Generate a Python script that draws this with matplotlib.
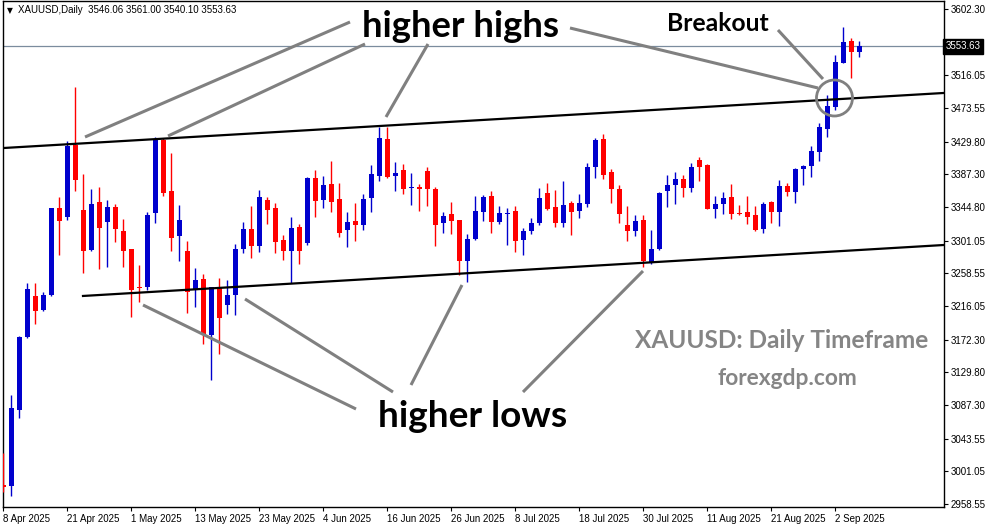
import matplotlib
matplotlib.use("Agg")
import matplotlib.pyplot as plt
from matplotlib.patches import Ellipse
import numpy as np

# ---------------------------------------------------------------------------
# data: XAUUSD daily candles, 8 Apr 2025 .. 5 Sep 2025
# ---------------------------------------------------------------------------
opens = [2983, 2982, 3081, 3176, 3229, 3211, 3230, 3343.5, 3332, 3425.4,
         3341, 3289, 3351, 3325.7, 3344.8, 3313.6, 3290, 3241, 3241, 3336.6,
         3432, 3365.6, 3307.5, 3287.6, 3238, 3251, 3178.3, 3239, 3217.4, 3230.4,
         3290.2, 3316.2, 3294.5, 3353.9, 3343.5, 3301.9, 3288, 3318.8, 3298.4, 3382.5,
         3354.3, 3374.7, 3355.2, 3315.3, 3326.6, 3321.4, 3356.5, 3385.1, 3433.2, 3385.6,
         3392.9, 3369.5, 3370.8, 3391.6, 3368.2, 3324, 3335.7, 3327.9, 3274.6, 3303.2,
         3338.7, 3359.1, 3325.7, 3335.7, 3339.6, 3302.3, 3314, 3324, 3363, 3344.8,
         3324, 3350, 3339.6, 3348.7, 3396.8, 3433.2, 3390.3, 3368.2, 3321.4, 3313.6,
         3327.9, 3273.7, 3290.2, 3365.6, 3373.4, 3381.2, 3369.9, 3405.9, 3399.4, 3342.2,
         3349.1, 3357.8, 3337, 3338.3, 3334.4, 3316.2, 3350.9, 3338.7, 3372.1, 3364.7,
         3393.8, 3398.6, 3416.8, 3445.8, 3475.3, 3532.5, 3560.7, 3546.06]
highs = [3024.4, 3100.3, 3177, 3246.4, 3246, 3234, 3343.5, 3357.8, 3430.6, 3501.3,
         3387.7, 3368, 3370.8, 3354, 3348.7, 3329, 3290, 3269.4, 3338, 3435.8,
         3435, 3414.6, 3347.4, 3300.6, 3265.5, 3257.7, 3241.2, 3252.5, 3249.9, 3296.7,
         3325.3, 3346.1, 3367, 3357.4, 3349.6, 3308.4, 3331.8, 3322.7, 3383.8, 3392.9,
         3385.1, 3404.6, 3376, 3338.3, 3350, 3361.7, 3399.4, 3449.3, 3449.3, 3403.3,
         3400.7, 3389, 3374.7, 3396.8, 3370.8, 3338.3, 3351.3, 3327.9, 3309.7, 3359.1,
         3360.4, 3365.6, 3346.1, 3343.5, 3346.1, 3317.5, 3330.5, 3369.5, 3376, 3366.9,
         3378.6, 3352.6, 3361.7, 3402, 3434.5, 3439.7, 3394.2, 3373.4, 3346.1, 3334.4,
         3334.4, 3314.9, 3364.3, 3386.4, 3390.3, 3386.4, 3401.6, 3410.3, 3400.3, 3359.1,
         3364.7, 3374.7, 3347.4, 3359.1, 3346.5, 3350.9, 3352.6, 3379.9, 3375.6, 3395.1,
         3399.4, 3424.1, 3453.6, 3490.9, 3542.5, 3579.3, 3564.6, 3561.00]
lows = [2974.6, 2969, 3071, 3175, 3193, 3210, 3229, 3282, 3328, 3366,
        3259, 3288, 3264.6, 3267.2, 3299.7, 3267, 3202, 3221.7, 3237, 3323.5,
        3359.5, 3288, 3275, 3207.4, 3215, 3166.6, 3119.8, 3153.6, 3205.6, 3204.4,
        3285.4, 3278.9, 3286.7, 3322.7, 3285.4, 3275.9, 3245.5, 3271.1, 3295.8, 3332.2,
        3343.9, 3338.7, 3306.2, 3293.2, 3301, 3315.3, 3338.3, 3378.6, 3382.5, 3365.6,
        3361.7, 3347.4, 3339.6, 3346.1, 3294.1, 3311, 3309.7, 3256.4, 3247.3, 3301.9,
        3327, 3311.4, 3323.1, 3295.4, 3286.7, 3282.4, 3309.7, 3321.4, 3340.9, 3318.8,
        3318.8, 3308.4, 3330.5, 3344.8, 3382.5, 3381.2, 3350, 3324, 3300.6, 3307.1,
        3267.2, 3271, 3289, 3344.8, 3348.7, 3358.2, 3364.7, 3379.1, 3341.8, 3330.9,
        3335.7, 3328.8, 3334, 3322.7, 3314, 3311.4, 3324.4, 3320.5, 3359.1, 3350.4,
        3373.8, 3384.3, 3404.2, 3436.3, 3471, 3532.5, 3512.1, 3540.10]
closes = [2981, 3083, 3176, 3238, 3210, 3230, 3343.5, 3327, 3424, 3380,
          3288, 3348.7, 3318, 3344.8, 3316.6, 3288, 3236.8, 3240, 3334.4, 3432,
          3363.4, 3304.9, 3327.9, 3234.7, 3249.9, 3179.2, 3241, 3201, 3230.4, 3290.2,
          3316.2, 3294.5, 3357.8, 3341.3, 3299.7, 3288, 3317.5, 3288, 3382.5, 3353,
          3373.4, 3351.7, 3311.4, 3325.3, 3321.8, 3355.2, 3387.7, 3434.5, 3383.8, 3389,
          3368.2, 3370.8, 3368.2, 3368.2, 3321.4, 3333.1, 3326.6, 3274.6, 3303.2, 3339.6,
          3357.8, 3325.7, 3337, 3337, 3301, 3313.6, 3324, 3356.5, 3342.2, 3324,
          3347.4, 3338.7, 3350, 3396.8, 3431.9, 3386.4, 3368.2, 3335.7, 3313.6, 3326.6,
          3275, 3290.2, 3363, 3373.4, 3381.2, 3369.1, 3396.8, 3397.3, 3342.2, 3348.7,
          3356.1, 3335.3, 3335.3, 3332.2, 3314.9, 3348.7, 3338.7, 3372.1, 3364.7, 3394.2,
          3398.1, 3417.6, 3449.3, 3476.2, 3533.8, 3559.4, 3546, 3553.63]

date_ticks = [0, 8, 16, 24, 32, 40, 48, 56, 64, 72, 80, 88, 96, 104]
date_labels = ["8 Apr 2025", "21 Apr 2025", "1 May 2025", "13 May 2025",
               "23 May 2025", "4 Jun 2025", "16 Jun 2025", "26 Jun 2025",
               "8 Jul 2025", "18 Jul 2025", "30 Jul 2025", "11 Aug 2025",
               "21 Aug 2025", "2 Sep 2025"]
price_ticks = [3602.30, 3559.55, 3516.05, 3473.55, 3429.80, 3387.30, 3344.80,
               3301.05, 3258.55, 3216.05, 3172.30, 3129.80, 3087.30, 3043.55,
               3001.05, 2958.55]
last_price = 3553.63

# channel lines (bar index, price)
upper_line = ([0, 117.6], [3421.5, 3493.1])
lower_line = ([9.96, 117.6], [3229.1, 3295.4])

W, H = 991, 528
BLUE = "#0000cd"
RED = "#ff0000"
GREY = "#808080"

fig = plt.figure(figsize=(W / 100, H / 100), dpi=100)
fig.patch.set_facecolor("white")
ax = fig.add_axes([3 / W, 21 / H, 941 / W, 506 / H])

o = np.array(opens, float)
h = np.array(highs, float)
l = np.array(lows, float)
c = np.array(closes, float)
x = np.arange(len(o))
up = c >= o
cols = np.where(up, BLUE, RED)

ax.vlines(x, l, h, colors=cols, lw=1.0, zorder=3)
body_lo = np.minimum(o, c)
body_h = np.maximum(np.abs(c - o), 1.3)
ax.bar(x, body_h, bottom=body_lo, width=0.62, color=cols, lw=0, zorder=4)

ax.plot(*upper_line, color="black", lw=1.6, zorder=5)
ax.plot(*lower_line, color="black", lw=1.6, zorder=5)
ax.axhline(last_price, color="#7b8c9e", lw=0.9, zorder=2)

ax.set_xlim(-0.04, 117.59)
ax.set_ylim(2954.65, 3612.7)

# axes styling (MT4 look)
for s in ax.spines.values():
    s.set_color("black")
    s.set_linewidth(1.0)
ax.yaxis.tick_right()
ax.set_yticks(price_ticks)
# the 3559.55 label sits under the last-price tag, so it is left blank
ax.set_yticklabels(["" if abs(p - 3559.55) < 0.01 else f"{p:.2f}" for p in price_ticks],
                   fontsize=7, family="Liberation Sans")
ax.tick_params(axis="y", direction="out", length=3, pad=2, colors="black")
ax.set_xticks(date_ticks)
ax.set_xticklabels(date_labels, fontsize=7, family="Liberation Sans", ha="left")
ax.tick_params(axis="x", direction="out", length=3, pad=2, colors="black")

# last price tag on the right scale
ax.text(1.002, last_price, f"{last_price:.2f}", transform=ax.get_yaxis_transform(),
        fontsize=7, family="Liberation Sans", color="white", va="center", ha="left",
        bbox=dict(boxstyle="square,pad=0.25", fc="black", ec="black"), zorder=10,
        clip_on=False)


# ---------------------------------------------------------------------------
# annotations (pixel positions of the screenshot -> data coords)
# ---------------------------------------------------------------------------
def px(xp, yp):
    return (xp - 3.3) / 8.0, 3602.3 - (yp - 9) * 1.3005


def seg(p0, p1, **kw):
    a, b = px(*p0), px(*p1)
    ax.plot([a[0], b[0]], [a[1], b[1]], color=GREY, lw=2.2,
            solid_capstyle="butt", zorder=6, **kw)


# higher highs
seg((350, 22), (85, 137))
seg((365, 44), (168, 136))
seg((428, 44), (386, 117))
seg((570, 28), (818, 88))
# breakout
seg((778, 30), (823, 79))
cx, cy = px(834.5, 98)
ax.add_patch(Ellipse((cx, cy), 36 / 8, 36 * 1.3005, fill=False, ec=GREY,
                     lw=2.0, zorder=6))
# higher lows
seg((143, 305), (356, 409))
seg((245, 299), (393, 392))
seg((462, 285), (411, 385))
seg((643, 271), (523, 392))

big = dict(family="Lato", weight="bold", ha="center", va="baseline")
fig.text(460.5 / W, 1 - 37 / H, "higher highs", fontsize=26.3, color="black", **big)
fig.text(718 / W, 1 - 31 / H, "Breakout", fontsize=17.8, color="black", **big)
fig.text(472.5 / W, 1 - 427 / H, "higher lows", fontsize=26.6, color="black", **big)
fig.text(781.5 / W, 1 - 348 / H, "XAUUSD: Daily Timeframe", fontsize=17.6,
         color="#858585", **big)
fig.text(787.5 / W, 1 - 385 / H, "forexgdp.com", fontsize=16.4, color="#858585", **big)

# header
fig.text(7 / W, 1 - 13 / H, "\u25bc", fontsize=5.5, color="black",
         family="DejaVu Sans", va="baseline")
fig.text(18 / W, 1 - 13 / H, "XAUUSD,Daily  3546.06 3561.00 3540.10 3553.63",
         fontsize=7, color="black", family="Liberation Sans", va="baseline")

fig.savefig("out.png", dpi=100, facecolor="white")
plt.close(fig)
